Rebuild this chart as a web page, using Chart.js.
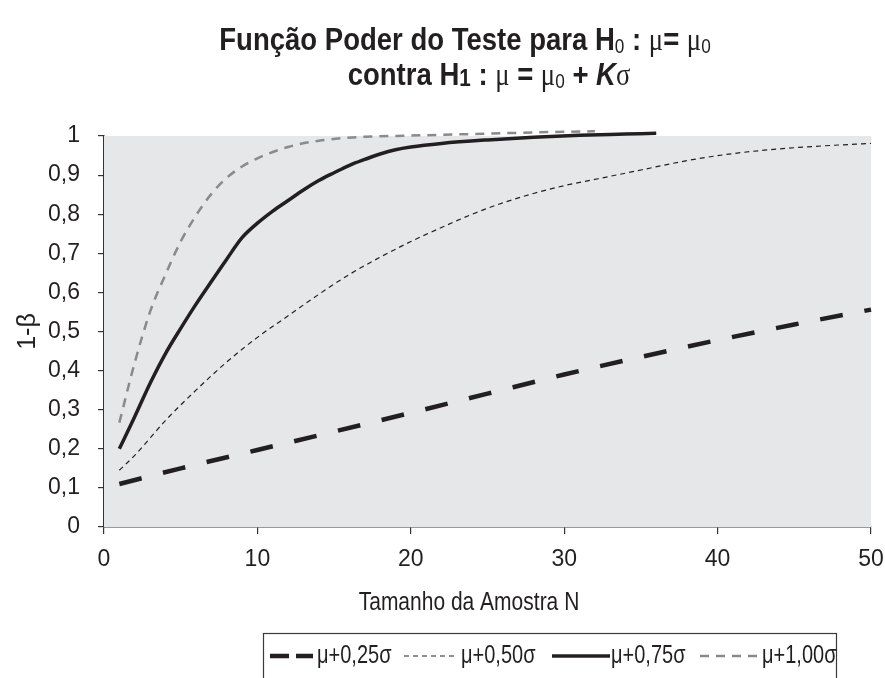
<!DOCTYPE html>
<html>
<head>
<meta charset="utf-8">
<script src="https://cdn.jsdelivr.net/npm/chart.js@4.4.1/dist/chart.umd.min.js"></script>
<style>
  body { margin: 0; background: #fff; }
</style>
</head>
<body>
<canvas id="myChart" width="885" height="678"></canvas>
<script>
// power curves
var FONT = "'Liberation Sans', Arial, sans-serif";
var SERIF = "'Liberation Serif', serif";
var INK = "#231f20";

var seriesNames = ["μ+0,25σ", "μ+0,50σ", "μ+0,75σ", "μ+1,00σ"];
var xTitle = "Tamanho da Amostra N";

var n025 = [1, 5, 10, 15, 20, 25, 30, 35, 40, 45, 50];
var p025 = [0.11, 0.15, 0.197, 0.244, 0.292, 0.341, 0.39, 0.435, 0.478, 0.518, 0.556];

var n050 = [1, 2, 4, 6, 8, 10, 12, 14, 16, 18, 20, 22, 24, 26, 28, 30, 32, 35, 38, 41, 44, 47, 50];
var p050 = [0.145, 0.183, 0.272, 0.35, 0.422, 0.485, 0.54, 0.595, 0.646, 0.69, 0.73, 0.766, 0.8, 0.829, 0.853, 0.873, 0.889, 0.913, 0.937, 0.955, 0.967, 0.975, 0.981];

var n075 = [1, 2, 3, 4, 5, 6, 7, 8, 9, 10, 11, 12, 13, 14, 15, 16, 17, 18, 19, 20, 22, 25, 28, 31, 34, 36];
var p075 = [0.2, 0.282, 0.367, 0.443, 0.508, 0.57, 0.628, 0.685, 0.74, 0.777, 0.808, 0.835, 0.862, 0.886, 0.906, 0.925, 0.94, 0.954, 0.965, 0.972, 0.981, 0.99, 0.997, 1.002, 1.005, 1.007];

var n100 = [1, 2, 3, 4, 5, 6, 7, 8, 9, 10, 12, 14, 17, 20, 25, 29, 32];
var p100 = [0.267, 0.42, 0.55, 0.645, 0.73, 0.797, 0.852, 0.893, 0.922, 0.943, 0.972, 0.988, 0.998, 1.001, 1.006, 1.01, 1.012];

var xTicks = [0, 10, 20, 30, 40, 50];

function pts(xs, ys) {
  return xs.map(function (x, i) { return { x: x, y: ys[i] }; });
}

// narrow text: fonts here have no condensed face, so squeeze horizontally
function narrowText(ctx, t, x, y, sx) {
  ctx.save();
  ctx.translate(x, y);
  ctx.scale(sx, 1);
  ctx.fillText(t, 0, 0);
  ctx.restore();
  return ctx.measureText(t).width * sx;
}

// grey plot background
var plotBg = {
  id: "plotBg",
  beforeDatasetsDraw: function (chart) {
    var a = chart.chartArea, ctx = chart.ctx;
    ctx.save();
    ctx.fillStyle = "#e6e7e8";
    ctx.fillRect(a.left, a.top, a.right - a.left, a.bottom - a.top);
    ctx.restore();
  }
};

// two-line title with subscript runs
var titleLines = [
  { cx: 465, y: 50, runs: [
    { t: "Função Poder do Teste para H", f: "bold 32px " + FONT },
    { t: "0", f: "20px " + FONT, dy: 3 },
    { t: " : ", f: "bold 32px " + FONT },
    { t: "μ", f: "31px " + SERIF },
    { t: "= ", f: "bold 32px " + FONT },
    { t: "μ", f: "31px " + SERIF },
    { t: "0", f: "20px " + FONT, dy: 3 }
  ]},
  { cx: 489, y: 85, runs: [
    { t: "contra H", f: "bold 32px " + FONT },
    { t: "1", f: "bold 24px " + FONT, dy: 1 },
    { t: " : ", f: "bold 32px " + FONT },
    { t: "μ", f: "31px " + SERIF },
    { t: " = ", f: "bold 32px " + FONT },
    { t: "μ", f: "31px " + SERIF },
    { t: "0", f: "20px " + FONT, dy: 3 },
    { t: " + ", f: "bold 32px " + FONT },
    { t: "K", f: "italic bold 32px " + FONT },
    { t: "σ", f: "31px " + SERIF }
  ]}
];

var titlePlugin = {
  id: "titleRuns",
  afterDraw: function (chart) {
    var ctx = chart.ctx, sx = 0.86;
    ctx.save();
    ctx.fillStyle = INK;
    ctx.textBaseline = "alphabetic";
    titleLines.forEach(function (line) {
      var w = 0;
      line.runs.forEach(function (r) { ctx.font = r.f; w += ctx.measureText(r.t).width * sx; });
      var x = line.cx - w / 2;
      line.runs.forEach(function (r) {
        ctx.font = r.f;
        x += narrowText(ctx, r.t, x, line.y + (r.dy || 0), sx);
      });
    });
    // x axis title sits a little left of the plot centre
    ctx.font = "25px " + FONT;
    ctx.textBaseline = "middle";
    var w2 = ctx.measureText(xTitle).width * 0.84;
    narrowText(ctx, xTitle, 469 - w2 / 2, 603, 0.84);
    ctx.restore();
  }
};

// boxed legend under the axis title
var legendItems = [
  { x0: 270, x1: 313, tx: 317, dash: [19, 7], w: 4.5, c: INK },
  { x0: 404, x1: 456, tx: 461, dash: [5, 4], w: 1.2, c: INK },
  { x0: 552, x1: 610, tx: 611, dash: [], w: 3.5, c: INK },
  { x0: 700, x1: 758, tx: 762, dash: [9, 7], w: 2.5, c: "#8a8a8a" }
];

var legendPlugin = {
  id: "boxLegend",
  afterDraw: function (chart) {
    var ctx = chart.ctx, y = 656;
    ctx.save();
    ctx.strokeStyle = "#3a3a3a";
    ctx.lineWidth = 1.2;
    ctx.strokeRect(263.5, 633.5, 573, 60);
    ctx.font = "25px " + FONT;
    ctx.textBaseline = "middle";
    ctx.fillStyle = INK;
    legendItems.forEach(function (it, i) {
      ctx.beginPath();
      ctx.setLineDash(it.dash);
      ctx.lineWidth = it.w;
      ctx.strokeStyle = it.c;
      ctx.moveTo(it.x0, y);
      ctx.lineTo(it.x1, y);
      ctx.stroke();
      ctx.setLineDash([]);
      narrowText(ctx, seriesNames[i], it.tx, y, 0.8);
    });
    ctx.restore();
  }
};

new Chart("myChart", {
  type: "line",
  data: {
    datasets: [
      { label: seriesNames[0], data: pts(n025, p025), borderColor: INK, borderWidth: 4.5, borderDash: [23, 22] },
      { label: seriesNames[1], data: pts(n050, p050), borderColor: INK, borderWidth: 1.2, borderDash: [5, 4] },
      { label: seriesNames[2], data: pts(n075, p075), borderColor: INK, borderWidth: 3.5 },
      { label: seriesNames[3], data: pts(n100, p100), borderColor: "#8a8a8a", borderWidth: 2.5, borderDash: [9, 7] }
    ]
  },
  options: {
    responsive: false,
    animation: false,
    devicePixelRatio: 1,
    layout: { padding: { top: 136, left: 0, right: 14, bottom: 48 } },
    datasets: { line: { pointRadius: 0, cubicInterpolationMode: "monotone", clip: false, fill: false } },
    plugins: { legend: { display: false }, tooltip: { enabled: false } },
    scales: {
      x: {
        type: "linear", min: 0, max: 50,
        afterFit: function (s) { s.height = 103; s.paddingLeft = 0; s.paddingRight = 0; },
        afterBuildTicks: function (s) { s.ticks = xTicks.map(function (v) { return { value: v }; }); },
        grid: { drawOnChartArea: false, drawTicks: true, tickLength: 7, color: "#333", lineWidth: 1.2 },
        border: { display: true, color: "#333", width: 1.5 },
        ticks: { color: INK, padding: 12, font: { family: FONT, size: 23 } },
        title: { display: false }
      },
      y: {
        type: "linear", min: 0, max: 1,
        afterFit: function (s) { s.width = 104; },
        grid: { drawOnChartArea: false, drawTicks: true, tickLength: 6, color: "#333", lineWidth: 1.2 },
        border: { display: true, color: "#333", width: 1.5 },
        ticks: {
          stepSize: 0.1, color: INK, padding: 18, font: { family: FONT, size: 23 },
          callback: function (v) { return (v === 0 || v === 1) ? String(v) : v.toFixed(1).replace(".", ","); }
        },
        title: { display: true, text: "1-β", color: INK, font: { family: FONT, size: 25 }, padding: { top: 13, bottom: 0 } }
      }
    }
  },
  plugins: [plotBg, titlePlugin, legendPlugin]
});
</script>
</body>
</html>
